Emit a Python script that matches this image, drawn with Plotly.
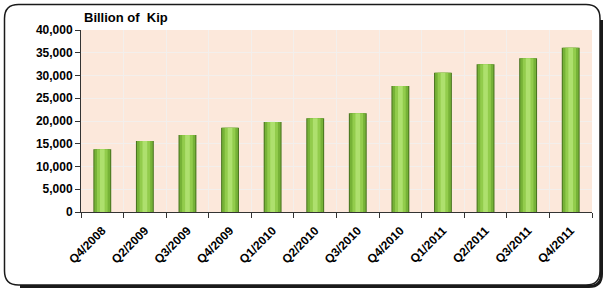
import plotly.graph_objects as go

categories = ["Q4/2008", "Q2/2009", "Q3/2009", "Q4/2009", "Q1/2010", "Q2/2010",
              "Q3/2010", "Q4/2010", "Q1/2011", "Q2/2011", "Q3/2011", "Q4/2011"]
values = [13800, 15600, 16900, 18500, 19800, 20600, 21700, 27700, 30600, 32500, 33800, 36100]
y_ticks = [0, 5000, 10000, 15000, 20000, 25000, 30000, 35000, 40000]
y_tick_labels = ["0", "5,000", "10,000", "15,000", "20,000", "25,000", "30,000", "35,000", "40,000"]

W, H = 608, 291
L, R, T, B = 81, 16, 30, 79
pw, ph = W - L - R, H - T - B

def px(x):
    return (x - L) / pw

def py(y):
    return (H - B - y) / ph

fig = go.Figure()
layers = [(0.42, "#4A7620"), (0.37, "#76B237"), (0.25, "#92CC4C"), (0.11, "#AEE06E")]
for w, c in layers:
    fig.add_trace(go.Bar(x=categories, y=values, width=w, marker=dict(color=c, line=dict(width=0)),
                         hoverinfo="skip", showlegend=False))

def rounded(x0, y0, x1, y1, r):
    return (f"M {px(x0 + r)},{py(y0)} L {px(x1 - r)},{py(y0)} "
            f"Q {px(x1)},{py(y0)} {px(x1)},{py(y0 + r)} "
            f"L {px(x1)},{py(y1 - r)} Q {px(x1)},{py(y1)} {px(x1 - r)},{py(y1)} "
            f"L {px(x0 + r)},{py(y1)} Q {px(x0)},{py(y1)} {px(x0)},{py(y1 - r)} "
            f"L {px(x0)},{py(y0 + r)} Q {px(x0)},{py(y0)} {px(x0 + r)},{py(y0)} Z")

shadow = (f"M {px(601.5)},{py(20)} L {px(601.5)},{py(274)} "
          f"Q {px(601.5)},{py(286.5)} {px(589)},{py(286.5)} L {px(20)},{py(286.5)}")

fig.update_layout(
    width=W, height=H,
    margin=dict(l=L, r=R, t=T, b=B, autoexpand=False),
    paper_bgcolor="white",
    plot_bgcolor="#FCE8DB",
    barmode="overlay",
    font=dict(family="Liberation Sans, Arial", size=11, color="black"),
    xaxis=dict(
        type="category", tickangle=-45, tickson="boundaries", ticks="outside", ticklen=5,
        tickcolor="#333", showline=True, linecolor="#333", linewidth=1,
        showgrid=True, gridcolor="#F3EFEC", gridwidth=1, automargin=False,
        ticklabelstandoff=6,
        tickfont=dict(family="Liberation Sans, Arial", size=12, color="black", weight="bold"),
        range=[-0.5, 11.5],
    ),
    yaxis=dict(
        range=[0, 40000], tickvals=y_ticks, ticktext=y_tick_labels, automargin=False,
        ticks="outside", ticklen=5, tickcolor="#333", showline=True, linecolor="#333", linewidth=1,
        showgrid=True, gridcolor="#F3EFEC", gridwidth=1, zeroline=False,
        tickfont=dict(family="Liberation Sans, Arial", size=12, color="black", weight="bold"),
    ),
    annotations=[dict(text="<b>Billion of\u00a0\u00a0Kip</b>", xref="paper", yref="paper",
                      x=px(82), y=py(17), xanchor="left", yanchor="middle", showarrow=False,
                      font=dict(family="Liberation Sans, Arial", size=13, color="black"))],
    shapes=[
        dict(type="path", xref="paper", yref="paper", path=shadow,
             line=dict(color="#1A1A1A", width=3)),
        dict(type="path", xref="paper", yref="paper", path=rounded(4.5, 4.5, 600, 285, 14),
             line=dict(color="#1A1A1A", width=1.5)),
    ],
)

fig.write_html("out.html", config={"displayModeBar": False},
               post_script="document.body.style.margin='0';")
